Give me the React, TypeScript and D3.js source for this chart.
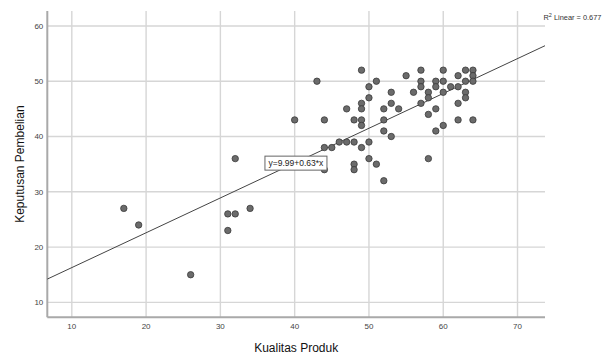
import { FC } from 'react';
import * as d3 from 'd3';

// Kualitas Produk (x) vs Keputusan Pembelian (y)
const kualitas = [
    17, 19, 26, 31, 32, 34, 31, 32,
    40, 43, 44, 44, 44, 45, 46, 47, 47, 48, 48, 48, 48,
    49, 49, 49, 49, 49, 49,
    50, 50, 50, 50,
    51, 51,
    52, 52, 52, 52,
    53, 53, 53,
    54, 55, 56,
    57, 57, 57, 57,
    58, 58, 58, 58,
    59, 59, 59, 59,
    60, 60, 60, 60,
    61,
    62, 62, 62, 62,
    63, 63, 63, 63,
    64, 64, 64, 64,
];
const keputusan = [
    27, 24, 15, 26, 26, 27, 23, 36,
    43, 50, 43, 38, 34, 38, 39, 39, 45, 43, 39, 35, 34,
    52, 46, 45, 43, 42, 38,
    49, 47, 39, 36,
    50, 35,
    45, 43, 41, 32,
    48, 46, 40,
    45, 51, 48,
    52, 50, 49, 46,
    48, 47, 44, 36,
    50, 49, 45, 41,
    52, 50, 48, 42,
    49,
    51, 49, 46, 43,
    52, 50, 48, 47,
    52, 51, 50, 43,
];

const xTicks = [10, 20, 30, 40, 50, 60, 70];
const yTicks = [10, 20, 30, 40, 50, 60];
const xDomain = [6.7, 73.7];
const yDomain = [7.3, 62.7];

// fit line y = 9.99 + 0.63*x
const intercept = 9.99;
const slope = 0.63;
const rSquared = 0.677;

const W = 602;
const H = 354;
const left = 47.3;
const right = 545;
const top = 11;
const bottom = 317.3;

const App: FC = () => {
    const x = d3.scaleLinear().domain(xDomain).range([left, right]);
    const y = d3.scaleLinear().domain(yDomain).range([bottom, top]);

    const fitLine = d3.line<number>()
        .x(d => x(d))
        .y(d => y(intercept + slope * d));

    const labelX = x(36);
    const labelY = y(36.45);
    const font = '"Liberation Sans", Arial, sans-serif';

    return (
        <svg width={W} height={H} style={{ position: 'absolute', left: 0, top: 0, background: '#fff' }}>
            {/* grid */}
            {xTicks.map(t => (
                <line key={'gx' + t} x1={x(t)} x2={x(t)} y1={top} y2={bottom}
                      stroke="#d6d6d6" strokeWidth={1.4}/>
            ))}
            {yTicks.map(t => (
                <line key={'gy' + t} x1={left} x2={right} y1={y(t)} y2={y(t)}
                      stroke="#d6d6d6" strokeWidth={1.4}/>
            ))}

            {/* axes */}
            <line x1={left} x2={left} y1={top} y2={bottom} stroke="#a9a9a9" strokeWidth={2}/>
            <line x1={left} x2={right} y1={bottom} y2={bottom} stroke="#a9a9a9" strokeWidth={2}/>

            {xTicks.map(t => (
                <text key={'tx' + t} x={x(t)} y={bottom + 12} textAnchor="middle"
                      fontFamily={font} fontSize={8} fill="#444">{t}</text>
            ))}
            {yTicks.map(t => (
                <text key={'ty' + t} x={left - 4} y={y(t)} dy="0.35em" textAnchor="end"
                      fontFamily={font} fontSize={8} fill="#444">{t}</text>
            ))}

            {/* regression line */}
            <path d={fitLine(xDomain) ?? ''} fill="none" stroke="#444" strokeWidth={1}/>

            {/* points */}
            {kualitas.map((k, i) => (
                <circle key={i} cx={x(k)} cy={y(keputusan[i])} r={3.2}
                        fill="#6b6b6b" stroke="#3a3a3a" strokeWidth={0.8}/>
            ))}

            {/* equation label */}
            <rect x={labelX} y={labelY} width={62} height={14} fill="#fff" stroke="#666" strokeWidth={1}/>
            <text x={labelX + 31} y={labelY + 10} textAnchor="middle"
                  fontFamily={font} fontSize={8.5} fill="#222">y=9.99+0.63*x</text>

            {/* R squared */}
            <text x={543.5} y={19.5} fontFamily={font} fontSize={7.4} fill="#333">
                R<tspan dy={-3} fontSize={5.5}>2</tspan><tspan dy={3}> Linear = {rSquared}</tspan>
            </text>

            {/* axis titles */}
            <text x={(left + right) / 2} y={352} textAnchor="middle"
                  fontFamily={font} fontSize={12} fill="#111">Kualitas Produk</text>
            <text transform={`translate(23.5,${(top + bottom) / 2}) rotate(-90)`} textAnchor="middle"
                  fontFamily={font} fontSize={12} fill="#111">Keputusan Pembelian</text>
        </svg>
    );
};

export default App;
